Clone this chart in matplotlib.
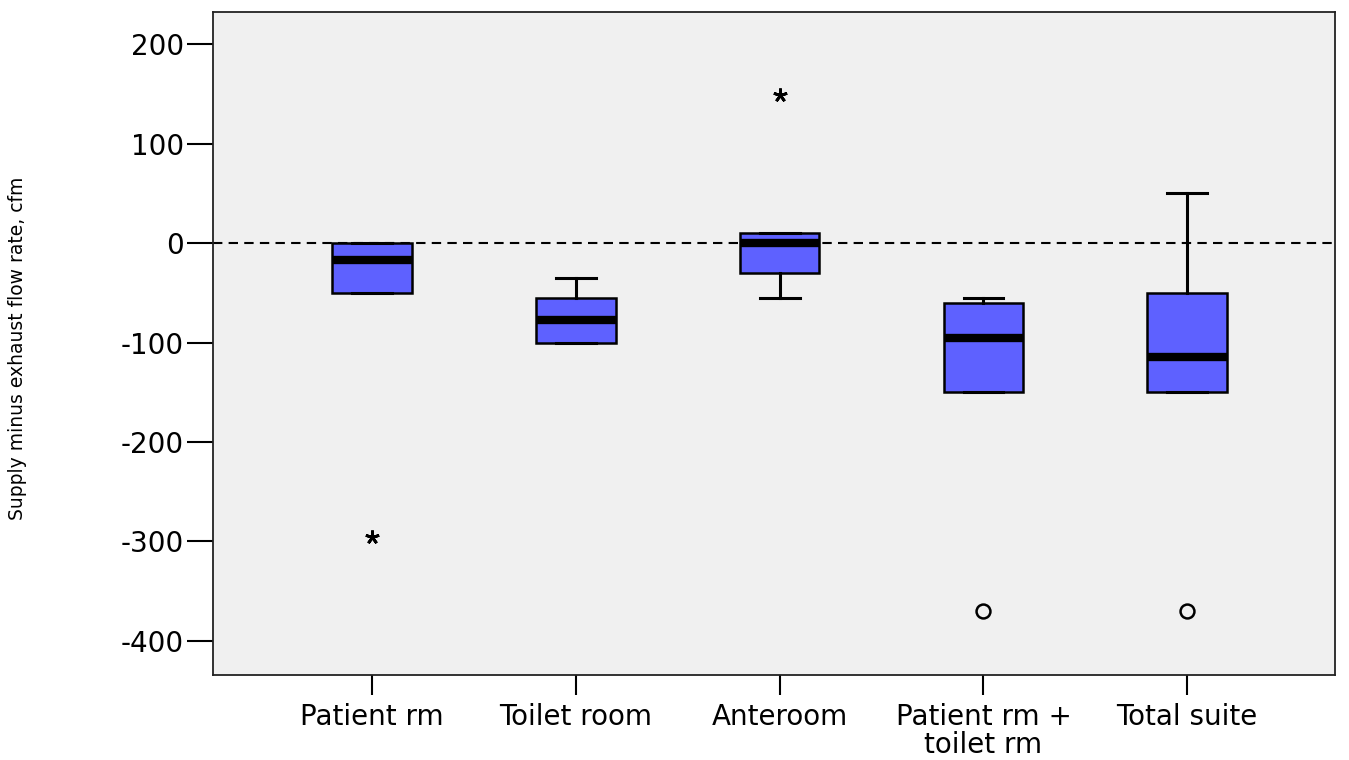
import matplotlib
matplotlib.use('Agg')
import matplotlib.pyplot as plt

plt.rcParams['axes.unicode_minus'] = False

# categories and box statistics
labels = ['Patient rm', 'Toilet room', 'Anteroom', 'Patient rm +\ntoilet rm', 'Total suite']
medians = [-17, -77, 0, -95, -115]
q1 = [-50, -100, -30, -150, -150]
q3 = [0, -55, 10, -60, -50]
whis_lo = [-50, -100, -55, -150, -150]
whis_hi = [0, -35, 10, -55, 50]

# extreme values (*) and outliers (o)
extreme_x = [1, 3]
extreme_y = [-296, 149]
outlier_x = [4, 5]
outlier_y = [-370, -370]

stats = []
for i in range(len(labels)):
    stats.append({'med': medians[i], 'q1': q1[i], 'q3': q3[i],
                  'whislo': whis_lo[i], 'whishi': whis_hi[i], 'fliers': []})

fig = plt.figure(figsize=(13.49, 7.6), dpi=100)
ax = fig.add_axes([0.158, 0.112, 0.8316, 0.872])
ax.set_facecolor('#f0f0f0')

ax.axhline(0, color='black', lw=1.5, ls=(0, (4.5, 3)), zorder=1)

ax.bxp(stats, positions=range(1, 6), widths=0.39, patch_artist=True,
       showfliers=False,
       boxprops=dict(facecolor='#5e61ff', edgecolor='black', linewidth=1.8),
       medianprops=dict(color='black', linewidth=6, solid_capstyle='butt'),
       whiskerprops=dict(color='black', linewidth=2.2),
       capprops=dict(color='black', linewidth=2.2),
       capwidths=0.195, zorder=2)

ax.plot(extreme_x, extreme_y, ls='none', marker=(5, 2, 0), markersize=10,
        mew=2, color='black', zorder=3)
ax.plot(outlier_x, outlier_y, ls='none', marker='o', markersize=10,
        mfc='none', mec='black', mew=1.8, zorder=3)

ax.set_xlim(0.22, 5.725)
ax.set_ylim(-434.2, 232.2)
ax.set_yticks([200, 100, 0, -100, -200, -300, -400])
ax.set_xticks(range(1, 6))
ax.set_xticklabels(labels)

for s in ax.spines.values():
    s.set_linewidth(1.3)
    s.set_color('#222222')

ax.tick_params(axis='y', length=19, width=1.5, labelsize=20, pad=2)
ax.tick_params(axis='x', length=14.5, width=1.5, labelsize=20, pad=6)
for t in ax.get_xticklabels():
    t.set_linespacing(1.0)

ax.set_ylabel('Supply minus exhaust flow rate, cfm', fontsize=13.5,
              family='DejaVu Sans')
ax.yaxis.set_label_coords(-0.166, 0.493)

fig.savefig('out.png', dpi=100)
